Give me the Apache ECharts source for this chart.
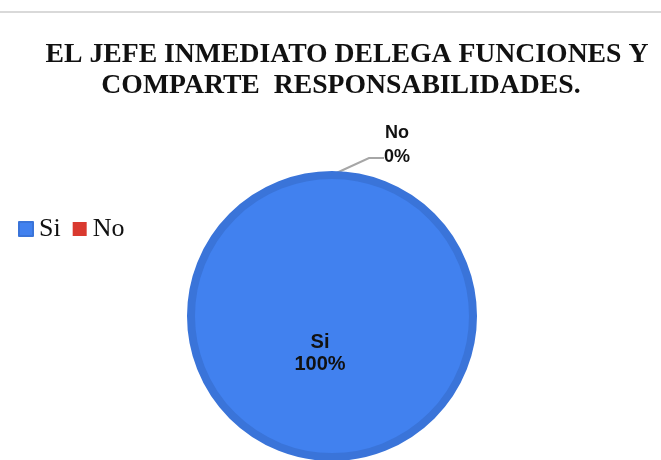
<!DOCTYPE html>
<html><head><meta charset="utf-8">
<script src="https://cdn.jsdelivr.net/npm/echarts@6/dist/echarts.min.js"></script>
<style>html,body{margin:0;padding:0;background:#fff}#c{width:661px;height:460px}</style>
</head><body><div id="c"></div>
<script>
const titleLines = ['EL JEFE INMEDIATO DELEGA FUNCIONES Y', 'COMPARTE  RESPONSABILIDADES.'];
const categories = ['Si', 'No'];
const values = [100, 0];
const colors = ['#4181EF', '#D9392F'];

const titleStyle = { fontFamily: 'Liberation Serif', fontWeight: 'bold', fontSize: 27.7, lineHeight: 31, color: '#111' };
const chart = echarts.init(document.getElementById('c'));
chart.setOption({
  backgroundColor: '#fff',
  animation: false,
  title: [
    { text: titleLines[0], left: 347, top: 39, textAlign: 'center', padding: 0, textStyle: titleStyle },
    { text: titleLines[1], left: 341, top: 70, textAlign: 'center', padding: 0, textStyle: titleStyle }
  ],
  legend: {
    data: categories, left: 13, top: 211, orient: 'horizontal', padding: 5,
    icon: 'rect', itemWidth: 14, itemHeight: 14, itemGap: 12,
    textStyle: { fontFamily: 'Liberation Serif', fontSize: 26, color: '#111', padding: [0,0,0,1] }
  },
  graphic: [{ type: 'line', shape: { x1: 0, y1: 12, x2: 661, y2: 12 }, style: { stroke: '#d9d9d9', lineWidth: 2 } }],
  series: [{
    type: 'pie',
    center: [332, 316], radius: 141,
    startAngle: 90, clockwise: true,
    labelLine: { length: 12, length2: 15, lineStyle: { color: '#a6a6a6', width: 2 } },
    labelLayout: function (p) {
      return p.dataIndex === 1 ? { x: 397, y: 166, align: 'center', verticalAlign: 'middle' } : {};
    },
    data: categories.map((c, i) => ({
      name: c, value: values[i],
      itemStyle: { color: colors[i], borderColor: i === 0 ? '#3A74D9' : colors[i], borderWidth: i === 0 ? 8 : 0 },
      label: i === 0
        ? { show: true, position: 'center', offset: [-12, 37], formatter: '{b}\n{d}%', fontFamily: 'Liberation Sans', fontWeight: 'bold', fontSize: 20, lineHeight: 22, color: '#111' }
        : { show: true, position: 'outside', formatter: '{a|{b}}\n{a|{d}%}\n{s| }', align: 'center',
            rich: {
              a: { fontFamily: 'Liberation Sans', fontWeight: 'bold', fontSize: 18, lineHeight: 24, color: '#111', align: 'center' },
              s: { fontSize: 4, lineHeight: 42 }
            } }
    }))
  }]
});
</script></body></html>
